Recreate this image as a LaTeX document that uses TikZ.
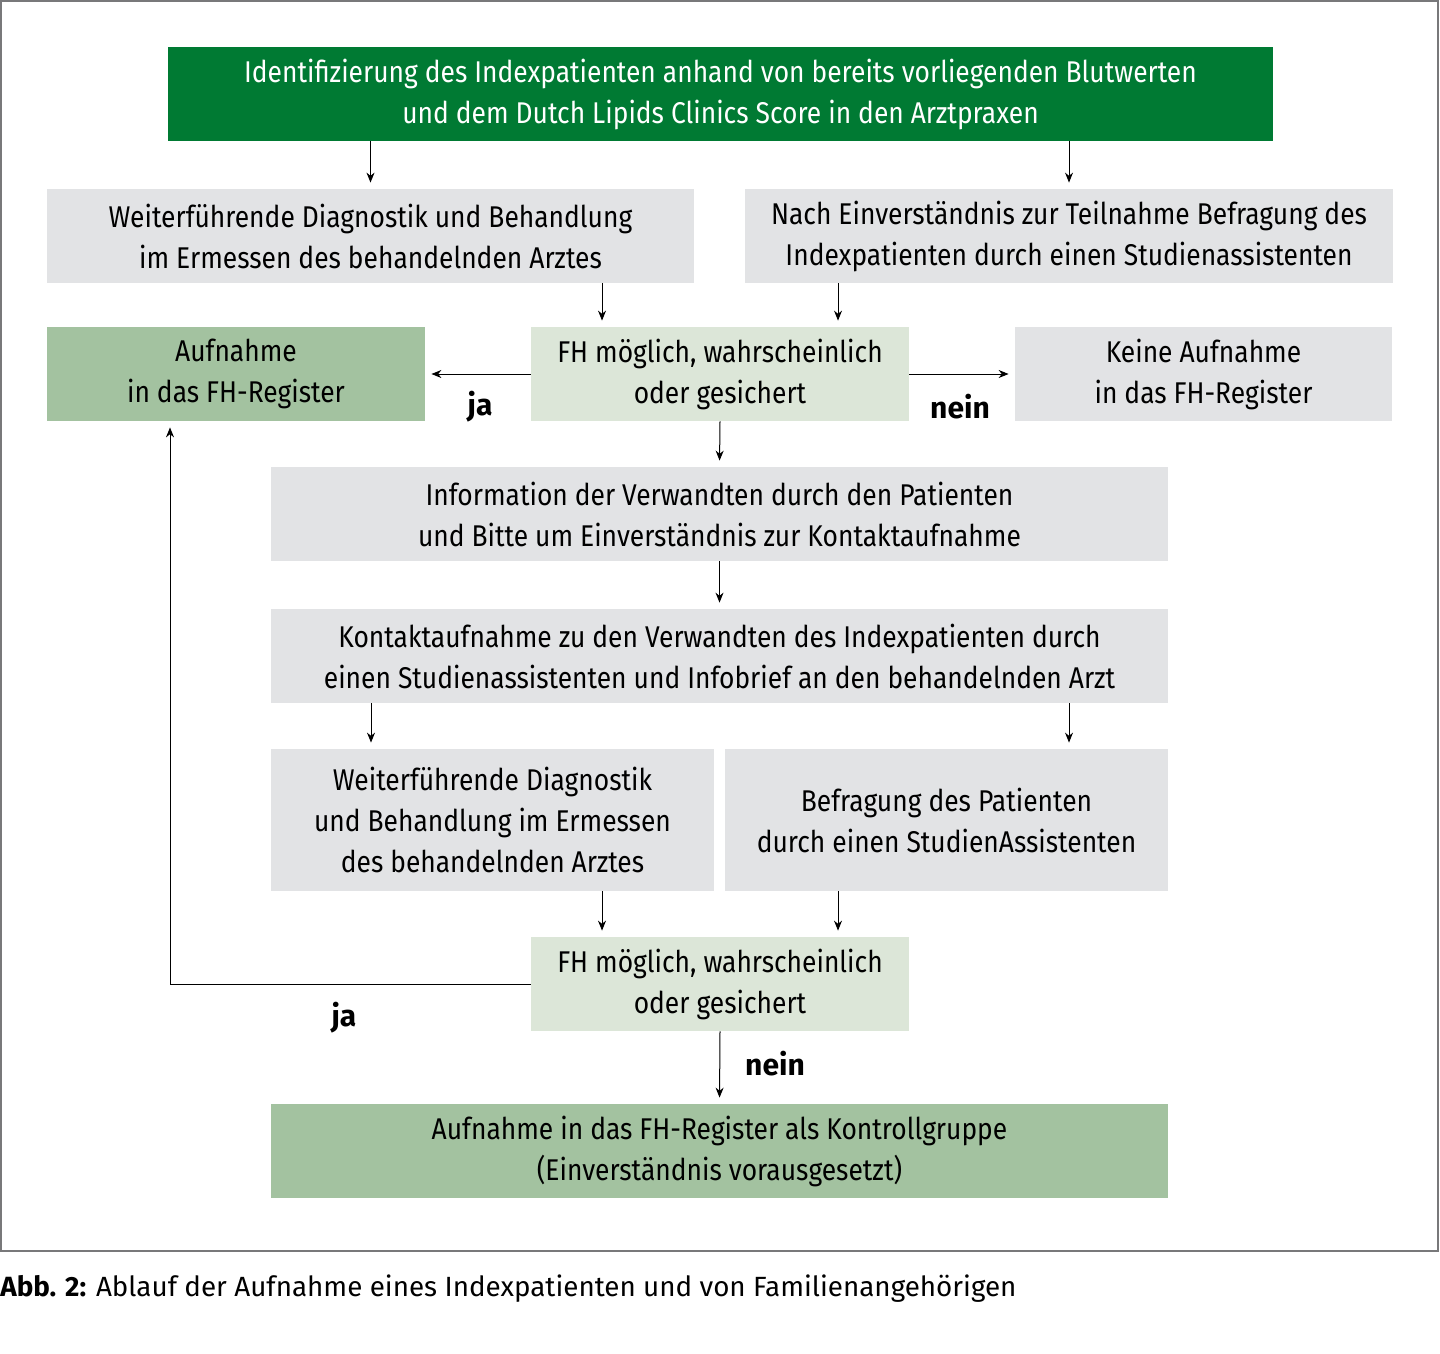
\documentclass[tikz,border=0pt]{standalone}
\usepackage{fontspec}
\setmainfont{Fira Sans}
\newfontfamily\condfont{Fira Sans}[FakeStretch=0.88]
\usepackage{tikz}
\usetikzlibrary{calc,arrows.meta}
\definecolor{fhdark}{RGB}{0,122,51}
\definecolor{fhmid}{RGB}{163,194,160}
\definecolor{fhlight}{RGB}{220,230,216}
\definecolor{fhgray}{RGB}{226,227,229}
\definecolor{framegray}{RGB}{120,120,122}

\tikzset{
	box/.style={fill=fhgray, inner sep=0pt, align=center, minimum height=47pt,
		font=\condfont\fontsize{15}{20.5}\selectfont},
	arr/.style={-{Stealth[length=5pt,width=4pt]}, line width=0.5pt, shorten >=3pt},
	answer/.style={font=\bfseries\fontsize{15}{18}\selectfont}
}

\begin{document}
\begin{tikzpicture}[x=0.5pt,y=-0.5pt]
					\useasboundingbox (0,0) rectangle (1440,1354);
					\draw[framegray, line width=1pt] (1,1) rectangle (1438,1251);
					
					\node[box, fill=fhdark, text=white, minimum width=552.5pt] (ident) at (720.5,94)
						{Identifizierung des Indexpatienten anhand von bereits vorliegenden Blutwerten\\und dem Dutch Lipids Clinics Score in den Arztpraxen};
					\node[box, minimum width=323.5pt] (diagA) at (370.5,236)
						{Weiterführende Diagnostik und Behandlung\\im Ermessen des behandelnden Arztes};
					\node[box, minimum width=324pt] (befrA) at (1069,236)
						{Nach Einverständnis zur Teilnahme Befragung des\\Indexpatienten durch einen Studienassistenten};
					\node[box, fill=fhmid, minimum width=189pt] (aufn) at (236,374)
						{Aufnahme\\in das FH-Register};
					\node[box, fill=fhlight, minimum width=189pt] (fhA) at (720,374)
						{FH möglich, wahrscheinlich\\oder gesichert};
					\node[box, minimum width=188.5pt] (keine) at (1203.5,374)
						{Keine Aufnahme\\in das FH-Register};
					\node[box, minimum width=448.5pt] (info) at (719.5,514)
						{Information der Verwandten durch den Patienten\\und Bitte um Einverständnis zur Kontaktaufnahme};
					\node[box, minimum width=448.5pt] (kontakt) at (719.5,656)
						{Kontaktaufnahme zu den Verwandten des Indexpatienten durch\\einen Studienassistenten und Infobrief an den behandelnden Arzt};
					\node[box, minimum width=221.5pt, minimum height=71pt] (diagB) at (492.5,820)
						{Weiterführende Diagnostik\\und Behandlung im Ermessen\\des behandelnden Arztes};
					\node[box, minimum width=221.5pt, minimum height=71pt] (befrB) at (946.5,820)
						{Befragung des Patienten\\durch einen StudienAssistenten};
					\node[box, fill=fhlight, minimum width=189pt] (fhB) at (720,984)
						{FH möglich, wahrscheinlich\\oder gesichert};
					\node[box, fill=fhmid, minimum width=448.5pt] (kontroll) at (719.5,1151)
						{Aufnahme in das FH-Register als Kontrollgruppe\\(Einverständnis vorausgesetzt)};
					
					% top part
					\draw[arr] (ident.south -| diagA.north) -- (diagA.north);
					\draw[arr] (ident.south -| befrA.north) -- (befrA.north);
					\draw[arr] ([xshift=-59pt]fhA.north |- diagA.south) -- ([xshift=-59pt]fhA.north);
					\draw[arr] ([xshift=59pt]fhA.north |- befrA.south) -- ([xshift=59pt]fhA.north);
					\draw[arr] (fhA.west) -- (aufn.east);
					\draw[arr] (fhA.east) -- (keine.west);
					\node[answer] (jaA) at (480,407) {ja};
					\node[answer] (neinA) at (960,407) {nein};
					
					% relatives
					\draw[arr] (fhA.south) -- (info.north);
					\draw[arr] (info.south) -- (kontakt.north);
					\draw[arr] ([xshift=-174.25pt]kontakt.south) -- ([xshift=-174.25pt]kontakt.south |- diagB.north);
					\draw[arr] ([xshift=174.75pt]kontakt.south) -- ([xshift=174.75pt]kontakt.south |- befrB.north);
					\draw[arr] ([xshift=-59pt]fhB.north |- diagB.south) -- ([xshift=-59pt]fhB.north);
					\draw[arr] ([xshift=59pt]fhB.north |- befrB.south) -- ([xshift=59pt]fhB.north);
					\draw[arr] (fhB.west) -| ([xshift=-33pt]aufn.south);
					\draw[arr] (fhB.south) -- (kontroll.north);
					\node[answer] (jaB) at (344,1018) {ja};
					\node[answer] (neinB) at (775,1064) {nein};
					
					\node[anchor=west, inner sep=0pt, font=\fontsize{13.9}{17}\selectfont] (caption) at (0,1289)
						{\textbf{Abb. 2:} Ablauf der Aufnahme eines Indexpatienten und von Familienangehörigen};
				\end{tikzpicture}
\end{document}
